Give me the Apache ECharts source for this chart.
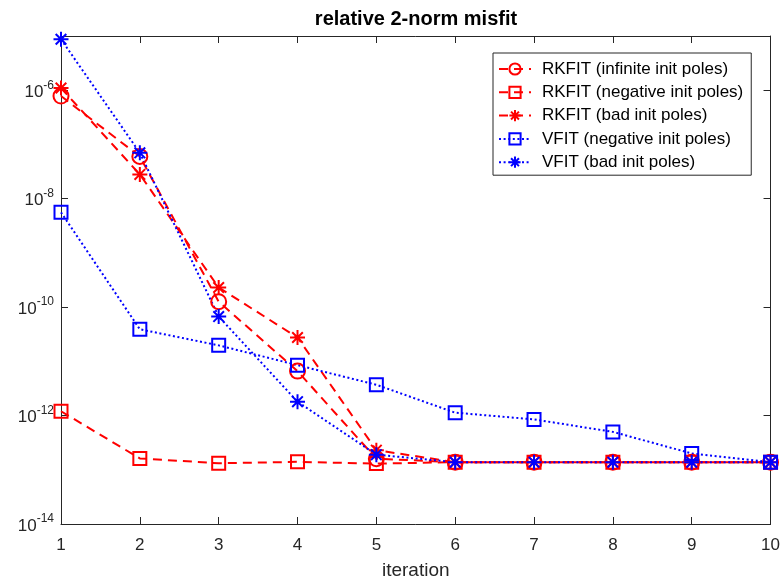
<!DOCTYPE html>
<html>
<head>
<meta charset="utf-8">
<script src="https://cdn.jsdelivr.net/npm/echarts@6/dist/echarts.min.js"></script>
<style>html,body{margin:0;padding:0;background:#fff;}#c{width:783px;height:585px;}</style>
</head>
<body>
<div id="c"></div>
<script>
var iterations = [1, 2, 3, 4, 5, 6, 7, 8, 9, 10];
var rkfitInfinite = [7.8e-7, 6.0e-8, 1.26e-10, 6.6e-12, 1.6e-13, 1.38e-13, 1.38e-13, 1.38e-13, 1.38e-13, 1.38e-13];
var rkfitNegative = [1.2e-12, 1.62e-13, 1.32e-13, 1.4e-13, 1.3e-13, 1.38e-13, 1.38e-13, 1.38e-13, 1.38e-13, 1.38e-13];
var rkfitBad = [1.1e-6, 2.8e-8, 2.3e-10, 2.75e-11, 2.3e-13, 1.38e-13, 1.38e-13, 1.38e-13, 1.38e-13, 1.38e-13];
var vfitNegative = [5.6e-9, 3.9e-11, 1.97e-11, 8.5e-12, 3.7e-12, 1.13e-12, 8.5e-13, 5.0e-13, 2.0e-13, 1.38e-13];
var vfitBad = [8.7e-6, 7.0e-8, 6.7e-11, 1.8e-12, 1.9e-13, 1.38e-13, 1.38e-13, 1.38e-13, 1.38e-13, 1.38e-13];
var yTickExponents = [-14, -12, -10, -8, -6];
var seriesNames = ['RKFIT (infinite init poles)', 'RKFIT (negative init poles)', 'RKFIT (bad init poles)', 'VFIT (negative init poles)', 'VFIT (bad init poles)'];

var RED = '#ff0000', BLUE = '#0000ff', AX = '#262626';
var STAR = 'path://M0,-10L0,10M-10,0L10,0M-7.07,-7.07L7.07,7.07M-7.07,7.07L7.07,-7.07';
var FONT = 'Liberation Sans, Arial, Helvetica, sans-serif';

function toLog(arr) {
  return arr.map(function (v, i) { return [iterations[i], Math.log10(v)]; });
}
function mk(name, data, color, dash, symbol, size) {
  return {
    name: name, type: 'line', data: toLog(data),
    symbol: symbol, symbolSize: size,
    showSymbol: true,
    color: color,
    lineStyle: { color: color, width: 2, type: dash },
    itemStyle: { color: 'rgba(0,0,0,0)', borderColor: color, borderWidth: 2 },
    emphasis: { disabled: true },
    animation: false
  };
}
var DASH = [9, 6], DOT = [2, 2.6];

var chart = echarts.init(document.getElementById('c'), null, { renderer: 'canvas' });
var axisCommon = {
  axisLine: { show: true, onZero: false, lineStyle: { color: AX, width: 1 } },
  axisTick: { show: true, inside: true, length: 7, lineStyle: { color: AX } },
  splitLine: { show: false }
};
chart.setOption({
  backgroundColor: '#fff',
  animation: false,
  textStyle: { fontFamily: FONT },
  title: {
    text: 'relative 2-norm misfit', left: 416, textAlign: 'center', top: 9, padding: 0,
    textStyle: { fontSize: 20, fontWeight: 'bold', color: '#000', fontFamily: FONT }
  },
  grid: { left: 61, right: 12, top: 36, bottom: 58, containLabel: false },
  xAxis: [
    Object.assign({
      type: 'value', min: 1, max: 10, interval: 1, position: 'bottom',
      name: 'iteration', nameLocation: 'middle', nameGap: 37,
      nameTextStyle: { fontSize: 19, color: AX, fontFamily: FONT },
      axisLabel: { fontSize: 17, color: AX, margin: 13, fontFamily: FONT }
    }, axisCommon),
    Object.assign({
      type: 'value', min: 1, max: 10, interval: 1, position: 'top',
      axisLabel: { show: false }
    }, axisCommon)
  ],
  yAxis: [
    Object.assign({
      type: 'value', min: -14, max: -5, interval: 2, position: 'left',
      axisLabel: {
        fontSize: 17, color: AX, margin: 7, fontFamily: FONT, showMaxLabel: false,
        formatter: function (v) {
          if (yTickExponents.indexOf(v) < 0) return '';
          return '{b|10}{s|' + v + '}';
        },
        rich: {
          b: { fontSize: 17, color: AX, fontFamily: FONT, padding: [4, 0, 0, 0] },
          s: { fontSize: 12, color: AX, fontFamily: FONT, padding: [0, 0, 10, 0], verticalAlign: 'bottom' }
        }
      }
    }, axisCommon),
    Object.assign({
      type: 'value', min: -14, max: -5, interval: 2, position: 'right',
      axisLabel: { show: false }
    }, axisCommon)
  ],
  legend: {
    show: true, orient: 'vertical', left: 493, top: 53,
    padding: [7.5, 8, 4.5, 5],
    backgroundColor: '#fff', borderColor: AX, borderWidth: 1, borderRadius: 0,
    itemWidth: 32, itemHeight: 14, itemGap: 6.3,
    itemStyle: { borderWidth: 2 },
    textStyle: { fontSize: 17, lineHeight: 17, color: '#000', fontFamily: FONT, padding: [0, 0, 0, 6] },
    data: seriesNames
  },
  series: [
    mk(seriesNames[0], rkfitInfinite, RED, DASH, 'circle', 15),
    mk(seriesNames[1], rkfitNegative, RED, DASH, 'rect', 13),
    mk(seriesNames[2], rkfitBad, RED, DASH, STAR, 15),
    mk(seriesNames[3], vfitNegative, BLUE, DOT, 'rect', 13),
    mk(seriesNames[4], vfitBad, BLUE, DOT, STAR, 15)
  ]
});
</script>
</body>
</html>
